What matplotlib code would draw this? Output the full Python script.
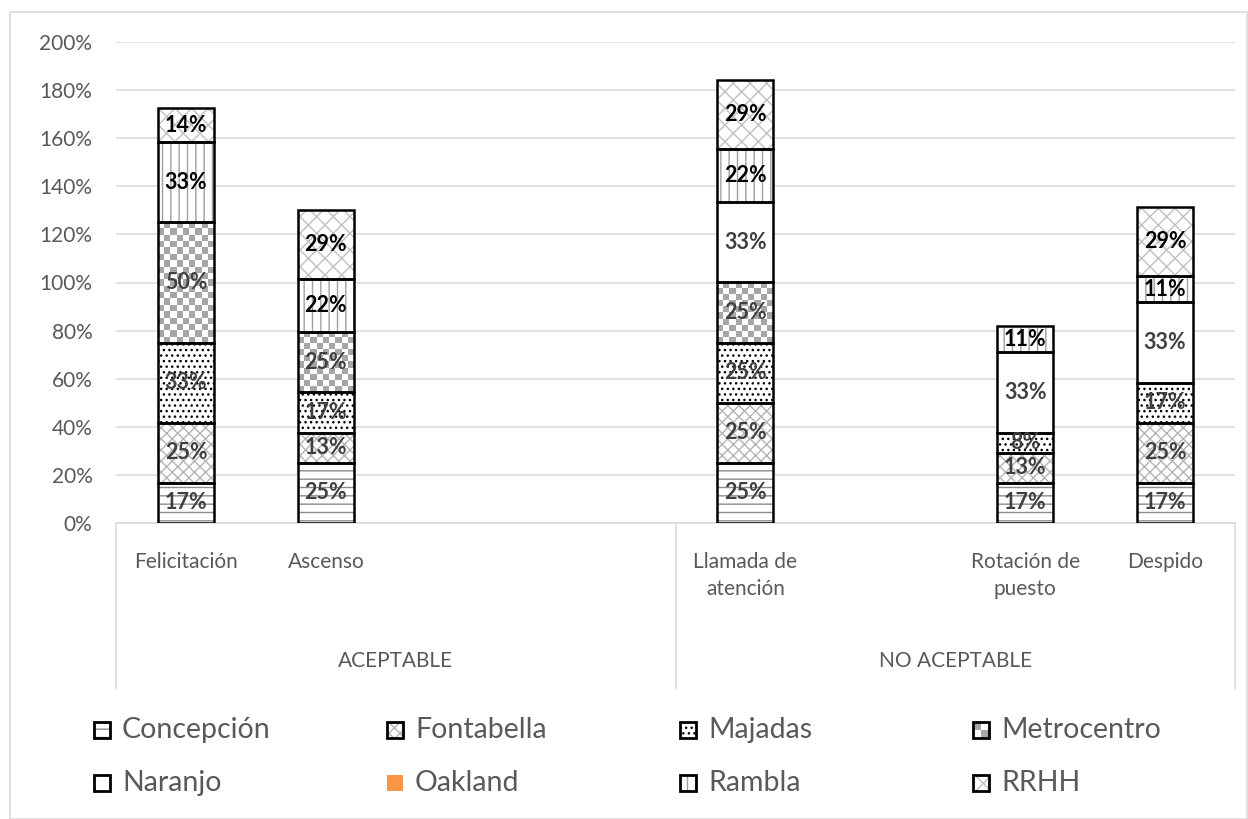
import numpy as np
import matplotlib
matplotlib.use("Agg")
import matplotlib.pyplot as plt
from matplotlib.patches import Rectangle

plt.rcParams['font.family'] = ['Lato', 'DejaVu Sans']
plt.rcParams['hatch.linewidth'] = 1.0

# categories (empty slots keep the Excel spacing)
categories = ['Felicitación', 'Ascenso', '', '', 'Llamada de\natención', '',
              'Rotación de\npuesto', 'Despido']
groups = ['ACEPTABLE', 'NO ACEPTABLE']

series = ['Concepción', 'Fontabella', 'Majadas', 'Metrocentro',
          'Naranjo', 'Oakland', 'Rambla', 'RRHH']

concepcion  = [0.167, 0.25, 0, 0, 0.25, 0, 0.167, 0.167]
fontabella  = [0.25, 0.126, 0, 0, 0.25, 0, 0.126, 0.25]
majadas     = [0.333, 0.167, 0, 0, 0.25, 0, 0.083, 0.167]
metrocentro = [0.5, 0.25, 0, 0, 0.25, 0, 0, 0]
naranjo     = [0, 0, 0, 0, 0.333, 0, 0.333, 0.333]
oakland     = [0, 0, 0, 0, 0, 0, 0, 0]
rambla      = [0.333, 0.222, 0, 0, 0.222, 0, 0.111, 0.111]
rrhh        = [0.143, 0.286, 0, 0, 0.286, 0, 0, 0.286]

values = [concepcion, fontabella, majadas, metrocentro, naranjo, oakland, rambla, rrhh]

# (hatch, hatch colour, face colour, label colour)
styles = [
    ('--', '#8c8c8c', 'white', '#404040'),
    ('xxx', '#b4b4b4', 'white', '#404040'),
    ('...', 'black', 'white', '#404040'),
    (None, None, 'white', '#404040'),      # checkerboard drawn as image
    ('', 'white', 'white', '#404040'),
    ('', '#f79646', '#f79646', '#404040'),
    ('||', '#a0a0a0', 'white', 'black'),
    ('xx', '#c0c0c0', 'white', 'black'),
]

W, H = 1248, 819
fig = plt.figure(figsize=(W / 100, H / 100), dpi=100)
ax = fig.add_axes([116 / W, 1 - 523 / H, (1235 - 116) / W, (523 - 42) / H])

x = np.arange(len(categories))
width = 0.4

px_x = (1235 - 116) / len(categories)
px_y = (523 - 42) / 2.0

checker = matplotlib.colors.ListedColormap(['white', '#a6a6a6'])

bottom = np.zeros(len(categories))
for i, (name, vals) in enumerate(zip(series, values)):
    vals = np.array(vals)
    hatch, hcol, face, lcol = styles[i]
    m = vals > 0
    if m.any():
        if hatch is None:
            ax.bar(x[m], vals[m], width, bottom=bottom[m], color='white',
                   linewidth=0, zorder=1)
            for xi, v, b in zip(x[m], vals[m], bottom[m]):
                ncols = 9
                nrows = max(1, int(round(v * px_y / (width * px_x / ncols))))
                board = (np.add.outer(np.arange(nrows), np.arange(ncols)) % 2).astype(float)
                ax.imshow(board, cmap=checker,
                          extent=[xi - width / 2, xi + width / 2, b, b + v],
                          aspect='auto', interpolation='nearest', zorder=2)
        else:
            ax.bar(x[m], vals[m], width, bottom=bottom[m], color=face,
                   edgecolor=hcol, hatch=hatch, linewidth=0, zorder=1)
        ax.bar(x[m], vals[m], width, bottom=bottom[m], fill=False,
               edgecolor='black', linewidth=1.8, zorder=3)
        for xi, v, b in zip(x[m], vals[m], bottom[m]):
            ax.text(xi, b + v / 2, f'{v:.0%}', ha='center', va='center',
                    fontsize=15.5, fontweight='bold', color=lcol, zorder=4)
    bottom += vals

ax.set_xlim(-0.5, len(categories) - 0.5)
ax.set_ylim(0, 2)

# axes styling
yt = np.arange(0, 2.01, 0.2)
ax.set_yticks(yt)
ax.set_yticklabels([f'{int(round(t * 100))}%' for t in yt])
ax.set_xticks(x)
ax.set_xticklabels(categories, linespacing=1.45)
ax.tick_params(axis='both', length=0, labelsize=15, colors='#595959')
ax.tick_params(axis='y', pad=17)
ax.tick_params(axis='x', pad=21)
ax.set_axisbelow(True)
ax.grid(axis='y', color='#d9d9d9', linewidth=1.1)
for s in ['left', 'right', 'top']:
    ax.spines[s].set_visible(False)
ax.spines['bottom'].set_color('#d9d9d9')
ax.spines['bottom'].set_linewidth(1.1)

# group level
trans = matplotlib.transforms.blended_transform_factory(ax.transData, ax.transAxes)
for xs in [-0.5, 3.5, 7.5]:
    ax.plot([xs, xs], [0, -(689 - 523) / (523 - 42)], color='#d9d9d9',
            linewidth=1.1, transform=trans, clip_on=False)
for gi, g in enumerate(groups):
    ax.text(1.5 + 4 * gi, -(661 - 523) / (523 - 42), g, transform=trans,
            ha='center', va='center', fontsize=15, color='#595959')

# outer chart border
fig.patches.append(Rectangle((10 / W, 0), (W - 11) / W, 1 - 12 / H,
                             transform=fig.transFigure, fill=False,
                             edgecolor='#d9d9d9', linewidth=1.1))

# legend, laid out like the Excel one
box = 16
for i, name in enumerate(series):
    row, col = divmod(i, 4)
    lx = 94 + col * 293
    ly = 730 + row * 53
    hatch, hcol, face, lcol = styles[i]
    x0, y0 = lx / W, 1 - (ly + box / 2) / H
    bw, bh = box / W, box / H
    if hatch is None:
        fig.patches.append(Rectangle((x0, y0), bw, bh, transform=fig.transFigure,
                                     facecolor='white', linewidth=0))
        fig.patches.append(Rectangle((x0, y0 + bh / 2), bw / 2, bh / 2,
                                     transform=fig.transFigure,
                                     facecolor='#a6a6a6', linewidth=0))
        fig.patches.append(Rectangle((x0 + bw / 2, y0), bw / 2, bh / 2,
                                     transform=fig.transFigure,
                                     facecolor='#a6a6a6', linewidth=0))
    else:
        fig.patches.append(Rectangle((x0, y0), bw, bh, transform=fig.transFigure,
                                     facecolor=face, edgecolor=hcol, hatch=hatch,
                                     linewidth=0))
    if name != 'Oakland':
        fig.patches.append(Rectangle((x0, y0), bw, bh, transform=fig.transFigure,
                                     fill=False, edgecolor='black', linewidth=2))
    fig.text((lx + 28) / W, 1 - ly / H, name, ha='left', va='center',
             fontsize=20.5, color='#595959')

fig.savefig('out.png', dpi=100)
